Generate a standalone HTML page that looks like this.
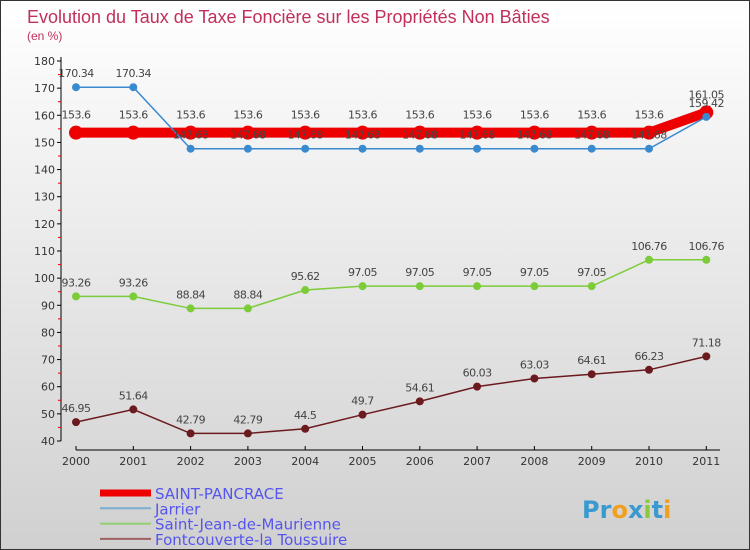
<!DOCTYPE html>
<html><head><meta charset="utf-8"><style>
body{margin:0;width:750px;height:550px;overflow:hidden;font-family:"DejaVu Sans","Liberation Sans",sans-serif}
#c{position:absolute;left:0;top:0;width:748px;height:548px;border:1px solid #333;background:linear-gradient(#fff,#d0d0d0)}
</style></head><body>
<div id="c"></div>
<svg id="s" width="750" height="550" style="position:absolute;left:0;top:0">
<text x="27" y="23" font-size="18" font-family="Liberation Sans" fill="#c0305a">Evolution du Taux de Taxe Foncière sur les Propriétés Non Bâties</text>
<text x="27" y="40" font-size="12" font-family="Liberation Sans" fill="#c0305a">(en %)</text>
<text x="582" y="518" font-size="24" font-weight="bold"><tspan fill="#3a9ad0">Pr</tspan><tspan fill="#f0a020">o</tspan><tspan fill="#3a9ad0">x</tspan><tspan fill="#8cc83c">i</tspan><tspan fill="#3a9ad0">t</tspan><tspan fill="#f0a020">i</tspan></text>
</svg>
<script>
const years=["2000","2001","2002","2003","2004","2005","2006","2007","2008","2009","2010","2011"];
const yTicks=[40,50,60,70,80,90,100,110,120,130,140,150,160,170,180];
const saint=[153.6,153.6,153.6,153.6,153.6,153.6,153.6,153.6,153.6,153.6,153.6,161.05];
const saintLbl=["153.6","153.6","153.6","153.6","153.6","153.6","153.6","153.6","153.6","153.6","153.6","161.05"];
const jarrier=[170.34,170.34,147.68,147.68,147.68,147.68,147.68,147.68,147.68,147.68,147.68,159.42];
const jarrierLbl=["170.34","170.34","147.68","147.68","147.68","147.68","147.68","147.68","147.68","147.68","147.68","159.42"];
const sjm=[93.26,93.26,88.84,88.84,95.62,97.05,97.05,97.05,97.05,97.05,106.76,106.76];
const sjmLbl=["93.26","93.26","88.84","88.84","95.62","97.05","97.05","97.05","97.05","97.05","106.76","106.76"];
const font=[46.95,51.64,42.79,42.79,44.5,49.7,54.61,60.03,63.03,64.61,66.23,71.18];
const fontLbl=["46.95","51.64","42.79","42.79","44.5","49.7","54.61","60.03","63.03","64.61","66.23","71.18"];
const svg=document.getElementById('s');const NS="http://www.w3.org/2000/svg";
const X=i=>76+i*57.3;const Y=v=>441-(v-40)*380/140;
function el(t,a,nm){const e=document.createElementNS(NS,t);for(const k in a)e.setAttribute(k,a[k]);


svg.appendChild(e);return e;}
el('line',{x1:61,y1:57,x2:61,y2:441,stroke:'#000'},'y-axis');
yTicks.forEach(v=>{el('line',{x1:57,x2:61,y1:Y(v),y2:Y(v),stroke:'#000'},'y-tick');
const t=el('text',{x:55,y:Y(v)+4,'font-size':11,'text-anchor':'end',fill:'#333'},'y-tick-label');t.textContent=v;
if(v<180)el('line',{x1:58,x2:61,y1:Y(v+5),y2:Y(v+5),stroke:'#e00'},'y-minor-tick');});
el('line',{x1:76,y1:450,x2:720,y2:450,stroke:'#000'},'x-axis');
years.forEach((y,i)=>{el('line',{x1:X(i),x2:X(i),y1:446,y2:450,stroke:'#000'},'x-tick');
const t=el('text',{x:X(i),y:465,'font-size':11,'text-anchor':'middle',fill:'#333'},'x-tick-label');t.textContent=y;});
function series(d,lbl,col,w,r,nm,dy){
el('polyline',{points:d.map((v,i)=>X(i)+','+Y(v)).join(' '),fill:'none',stroke:col,'stroke-width':w},nm+'-line');
d.forEach((v,i)=>{el('circle',{cx:X(i),cy:Y(v),r:r,fill:col},nm+'-point');
const t=el('text',{x:X(i),y:Y(v)+dy,'font-size':11,'text-anchor':'middle',fill:'#444','letter-spacing':'-0.5'},nm+'-value-label');t.textContent=lbl[i];});}
series(font,fontLbl,'#6b1a1e',1.5,4,'fontcouverte',-10);
series(sjm,sjmLbl,'#7ccc3a',1.5,4,'saint-jean',-10);
series(saint,saintLbl,'#ee0000',10,7,'saint-pancrace',-14);
series(jarrier,jarrierLbl,'#3a8ad0',1.5,4,'jarrier',-10);
const leg=[["SAINT-PANCRACE","#ee0000",7],["Jarrier","#7aaed0",2],["Saint-Jean-de-Maurienne","#90d070",2],["Fontcouverte-la Toussuire","#a06060",2]];
leg.forEach((l,i)=>{const y=493+i*15.3;
el('line',{x1:100,x2:151,y1:y,y2:y,stroke:l[1],'stroke-width':l[2]},'legend-swatch');
const t=el('text',{x:155,y:y+6,'font-size':15,fill:'#5555ee'},'legend-entry');t.textContent=l[0];});
</script>
</body></html>
